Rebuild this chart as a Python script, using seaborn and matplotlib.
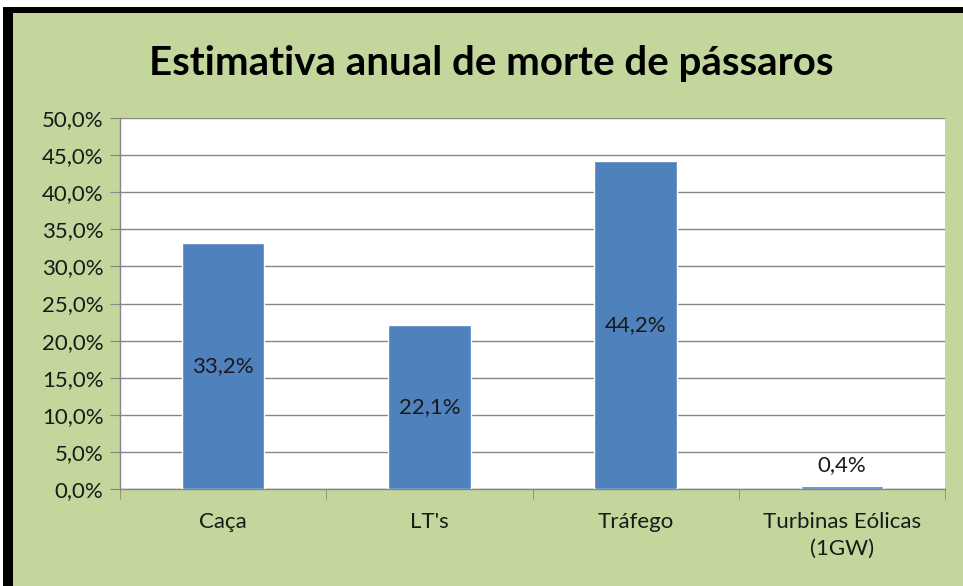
import matplotlib
matplotlib.use("Agg")
import matplotlib.pyplot as plt
import seaborn as sns
import pandas as pd
from matplotlib.patches import Rectangle
from matplotlib.ticker import FuncFormatter, MultipleLocator

categorias = ["Caça", "LT's", "Tráfego", "Turbinas Eólicas\n(1GW)"]
valores = [33.2, 22.1, 44.2, 0.4]
rotulos = ["33,2%", "22,1%", "44,2%", "0,4%"]

df = pd.DataFrame({"categoria": categorias, "valor": valores})

sns.set_style("white")
plt.rcParams['font.family'] = ['Lato', 'DejaVu Sans']

verde = "#C3D69B"
azul = "#4F81BD"
cinza = "#868686"
texto = "#1a1a1a"

fig = plt.figure(figsize=(9.63, 5.86), dpi=100, facecolor=verde)
ax = fig.add_axes([120/963, 1 - 489/586, 825/963, 371/586])
ax.set_facecolor("white")

sns.barplot(data=df, x="categoria", y="valor", color=azul, width=0.4,
            saturation=1, ax=ax, zorder=3)

ax.set_ylim(0, 50)
ax.set_xlim(-0.5, 3.5)
ax.yaxis.set_major_locator(MultipleLocator(5))
ax.yaxis.set_major_formatter(FuncFormatter(lambda v, p: f"{v:.1f}%".replace(".", ",")))
ax.grid(axis="y", color=cinza, linewidth=1, zorder=0)
ax.set_axisbelow(True)
ax.set_xlabel("")
ax.set_ylabel("")

for s in ["top", "right"]:
    ax.spines[s].set_visible(False)
for s in ["left", "bottom"]:
    ax.spines[s].set_color(cinza)
    ax.spines[s].set_linewidth(1)

ax.tick_params(axis="y", left=True, length=7, color=cinza, labelsize=16,
               labelcolor=texto, pad=5)
ax.tick_params(axis="x", bottom=False, labelsize=16, labelcolor=texto, pad=13)
for lbl in ax.get_xticklabels():
    lbl.set_linespacing(1.45)

# marcas entre categorias no eixo x
ax.set_xticks([-0.5, 0.5, 1.5, 2.5, 3.5], minor=True)
ax.tick_params(axis="x", which="minor", bottom=True, length=7, color=cinza, direction="out")

for i, (v, r) in enumerate(zip(valores, rotulos)):
    if v < 3:
        ax.text(i, v + 1.5, r, ha="center", va="bottom", fontsize=16, color=texto)
    else:
        ax.text(i, v / 2, r, ha="center", va="center", fontsize=16, color=texto)

fig.text(491/963, 1 - 63/586, "Estimativa anual de morte de pássaros", ha="center",
         va="center", fontsize=29, fontweight="bold", color="black")

# moldura preta à esquerda e no topo
fig.patches.append(Rectangle((3/963, 0), 10/963, 1 - 7/586, transform=fig.transFigure,
                             facecolor="black", edgecolor="none"))
fig.patches.append(Rectangle((3/963, 1 - 13/586), 1, 6/586, transform=fig.transFigure,
                             facecolor="black", edgecolor="none"))
fig.patches.append(Rectangle((0, 1 - 7/586), 1, 7/586, transform=fig.transFigure,
                             facecolor="white", edgecolor="none"))
fig.patches.append(Rectangle((0, 0), 3/963, 1, transform=fig.transFigure,
                             facecolor="white", edgecolor="none"))

fig.savefig("out.png", dpi=100, facecolor=verde)
